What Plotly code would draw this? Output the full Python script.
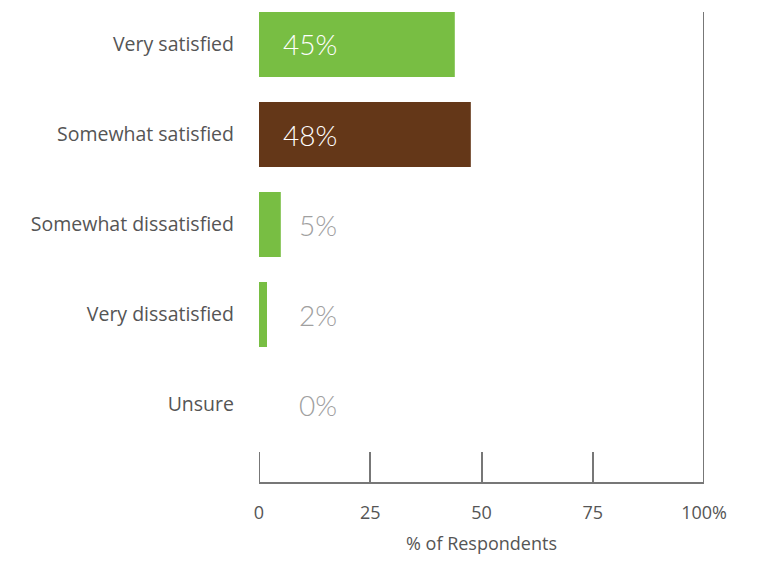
import plotly.graph_objects as go

categories = ["Very satisfied", "Somewhat satisfied", "Somewhat dissatisfied", "Very dissatisfied", "Unsure"]
values = [44.0, 47.6, 4.9, 1.8, 0.0]
labels = ["45%", "48%", "5%", "2%", "0%"]
bar_colors = ["#78BE43", "#643718", "#78BE43", "#78BE43", "#78BE43"]
tick_vals = [0, 25, 50, 75, 100]
tick_text = ["0", "25", "50", "75", "100%"]

AX = "#777777"
TXT = "#555555"

fig = go.Figure()
fig.add_trace(go.Bar(
    x=values, y=categories, orientation="h",
    marker=dict(color=bar_colors, line=dict(width=0)),
    width=0.722, hoverinfo="skip",
))

for cat, v, lab in zip(categories, values, labels):
    inside = v > 20
    fig.add_annotation(
        x=4.9 if inside else 8.5, y=cat, xref="x", yref="y",
        text=lab, showarrow=False, xanchor="left", yanchor="middle",
        font=dict(family="Lato", size=28, color="white" if inside else "#A0A0A0", weight=300),
    )

# right frame line at 100%
fig.add_shape(type="line", xref="x", yref="paper", x0=100, x1=100, y0=0, y1=1,
              line=dict(color=AX, width=2))
# tick at 0 (edge tick not drawn by plotly)
fig.add_shape(type="line", xref="x", yref="paper", x0=0, x1=0, y0=0, y1=30 / 470,
              line=dict(color=AX, width=2))

fig.update_layout(
    width=768, height=568,
    margin=dict(l=259, r=64, t=12, b=86),
    plot_bgcolor="white", paper_bgcolor="white",
    showlegend=False,
    xaxis=dict(
        range=[0, 100], tickvals=tick_vals, ticktext=tick_text,
        showgrid=False, zeroline=False, showline=True, linecolor=AX, linewidth=2,
        ticks="inside", ticklen=30, tickwidth=2, tickcolor=AX,
        ticklabelstandoff=13,
        tickfont=dict(family="Open Sans", size=18, color=TXT),
        title=dict(text="% of Respondents", standoff=15,
                   font=dict(family="Open Sans", size=18, color=TXT)),
    ),
    yaxis=dict(
        categoryorder="array", categoryarray=categories,
        range=[4.861, -0.361], showgrid=False, zeroline=False, showline=False,
        ticks="", ticklabelstandoff=24,
        tickfont=dict(family="Open Sans", size=19.5, color=TXT),
    ),
)

fig.write_html("out.html")
